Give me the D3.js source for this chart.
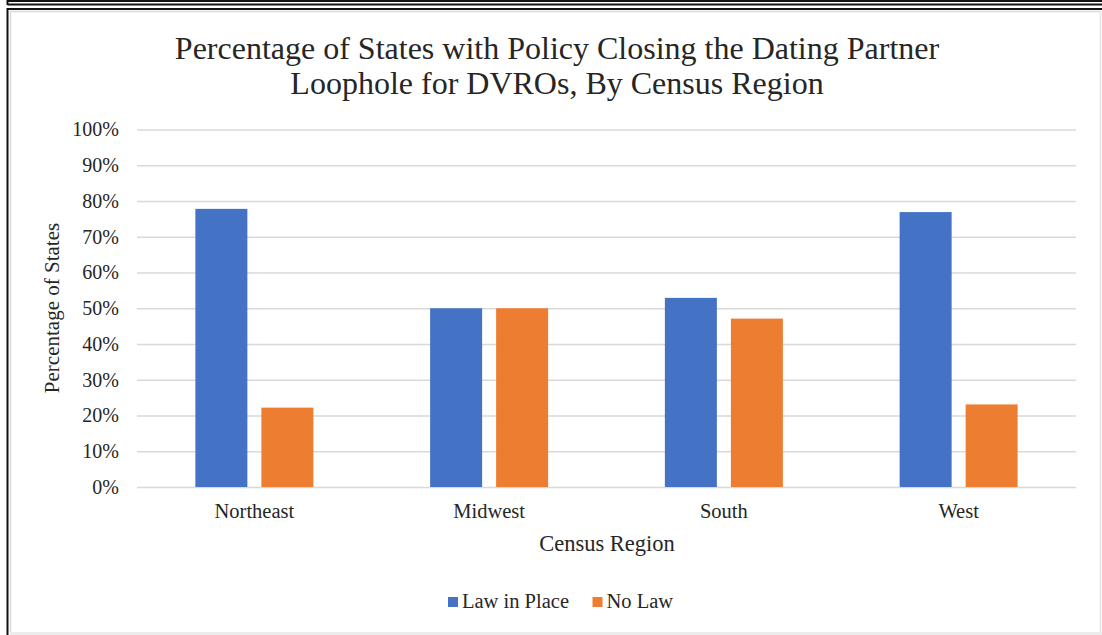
<!DOCTYPE html>
<html>
<head>
<meta charset="utf-8">
<script src="https://cdn.jsdelivr.net/npm/d3@7"></script>
<style>
  html, body { margin: 0; padding: 0; background: #ffffff; }
  svg { display: block; }
</style>
</head>
<body>
<svg id="chart" width="1102" height="635"></svg>
<script>
// Census regions and the share of states in each with / without the policy
const regions = ["Northeast", "Midwest", "South", "West"];
const seriesNames = ["Law in Place", "No Law"];
const lawInPlace = [77.8, 50, 52.9, 76.9];
const noLaw = [22.2, 50, 47.1, 23.1];
const yTicks = [0, 10, 20, 30, 40, 50, 60, 70, 80, 90, 100];
const colors = ["#4472c4", "#ed7d31"];

const SERIF = "Liberation Serif";
const INK = "#262626";

const svg = d3.select("#chart");
const W = 1102, H = 635;

// frame lines around the chart
const frame = svg.append("g");
frame.append("line").attr("x1", 7.5).attr("x2", W).attr("y1", 1).attr("y2", 1).attr("stroke", "#111").attr("stroke-width", 2);
frame.append("line").attr("x1", 7.5).attr("x2", W).attr("y1", 4.5).attr("y2", 4.5).attr("stroke", "#111").attr("stroke-width", 2);
frame.append("line").attr("x1", 7.5).attr("x2", 7.5).attr("y1", 0).attr("y2", 5).attr("stroke", "#111").attr("stroke-width", 2);
frame.append("line").attr("x1", 7.5).attr("x2", W).attr("y1", 9).attr("y2", 9).attr("stroke", "#111").attr("stroke-width", 2);
frame.append("line").attr("x1", 7.5).attr("x2", 7.5).attr("y1", 8).attr("y2", H).attr("stroke", "#111").attr("stroke-width", 2);
frame.append("line").attr("x1", 10.5).attr("x2", 1100.5).attr("y1", 11.5).attr("y2", 11.5).attr("stroke", "#d9d9d9").attr("stroke-width", 1.5);
frame.append("line").attr("x1", 10.5).attr("x2", 10.5).attr("y1", 11.5).attr("y2", 632.5).attr("stroke", "#d9d9d9").attr("stroke-width", 1.5);
frame.append("line").attr("x1", 1100.5).attr("x2", 1100.5).attr("y1", 11.5).attr("y2", 632.5).attr("stroke", "#e3e3e3").attr("stroke-width", 1.5);
frame.append("rect").attr("x", 10).attr("y", 632).attr("width", W - 10).attr("height", 3).attr("fill", "#ececec");

// plot area
const plot = { left: 137, right: 1076, top: 129.5, bottom: 487 };

const x0 = d3.scaleBand().domain(regions).range([plot.left, plot.right]).padding(0);
const groupWidth = 118;
const x1 = d3.scaleBand().domain(seriesNames).range([-groupWidth / 2, groupWidth / 2]).paddingInner(14 / 66);
const y = d3.scaleLinear().domain([0, 100]).range([plot.bottom, plot.top]);

// gridlines + tick labels via a left axis
const yAxis = d3.axisLeft(y)
  .tickValues(yTicks)
  .tickSize(-(plot.right - plot.left))
  .tickFormat(d => d + "%")
  .tickPadding(18);

const gy = svg.append("g").attr("transform", `translate(${plot.left},0)`).call(yAxis)
  .attr("font-family", SERIF).attr("font-size", 20);
gy.select(".domain").remove();
gy.selectAll(".tick line").attr("stroke", "#d9d9d9").attr("stroke-width", 1.5);
gy.selectAll(".tick text").attr("fill", INK);

// bars
const rows = regions.map((r, i) => ({ region: r, values: [lawInPlace[i], noLaw[i]] }));
const groups = svg.append("g").selectAll("g")
  .data(rows).join("g")
  .attr("transform", d => `translate(${x0(d.region) + x0.bandwidth() / 2},0)`);

groups.selectAll("rect")
  .data(d => d.values.map((v, k) => ({ key: seriesNames[k], value: v, k })))
  .join("rect")
  .attr("x", d => x1(d.key))
  .attr("width", x1.bandwidth())
  .attr("y", d => y(d.value))
  .attr("height", d => y(0) - y(d.value))
  .attr("fill", d => colors[d.k]);

// category labels
const xAxis = d3.axisBottom(x0).tickSize(0).tickPadding(0);
const gx = svg.append("g").attr("transform", `translate(0,${plot.bottom})`).call(xAxis)
  .attr("font-family", SERIF).attr("font-size", 20.5);
gx.select(".domain").remove();
gx.selectAll(".tick text")
  .attr("fill", INK)
  .attr("dy", null)
  .attr("y", 31);

// title
const title = svg.append("text")
  .attr("text-anchor", "middle")
  .attr("font-family", SERIF)
  .attr("fill", INK)
  .attr("font-size", 32);
title.append("tspan").attr("x", 557).attr("y", 59).text("Percentage of States with Policy Closing the Dating Partner");
title.append("tspan").attr("x", 557).attr("y", 94).text("Loophole for DVROs, By Census Region");

// axis titles
svg.append("text")
  .attr("text-anchor", "middle")
  .attr("font-family", SERIF)
  .attr("fill", INK)
  .attr("font-size", 22.5)
  .attr("x", 607).attr("y", 551)
  .text("Census Region");

svg.append("text")
  .attr("text-anchor", "middle")
  .attr("font-family", SERIF)
  .attr("fill", INK)
  .attr("font-size", 21)
  .attr("transform", "translate(59,308) rotate(-90)")
  .text("Percentage of States");

// legend
const legend = svg.append("g").attr("font-family", SERIF).attr("font-size", 20.5);
const legendItems = [
  { name: seriesNames[0], color: colors[0], x: 448 },
  { name: seriesNames[1], color: colors[1], x: 592.5 }
];
legendItems.forEach(it => {
  legend.append("rect").attr("x", it.x).attr("y", 597).attr("width", 10).attr("height", 10).attr("fill", it.color);
  legend.append("text").attr("x", it.x + 14).attr("y", 608).attr("fill", INK).text(it.name);
});
</script>
</body>
</html>
